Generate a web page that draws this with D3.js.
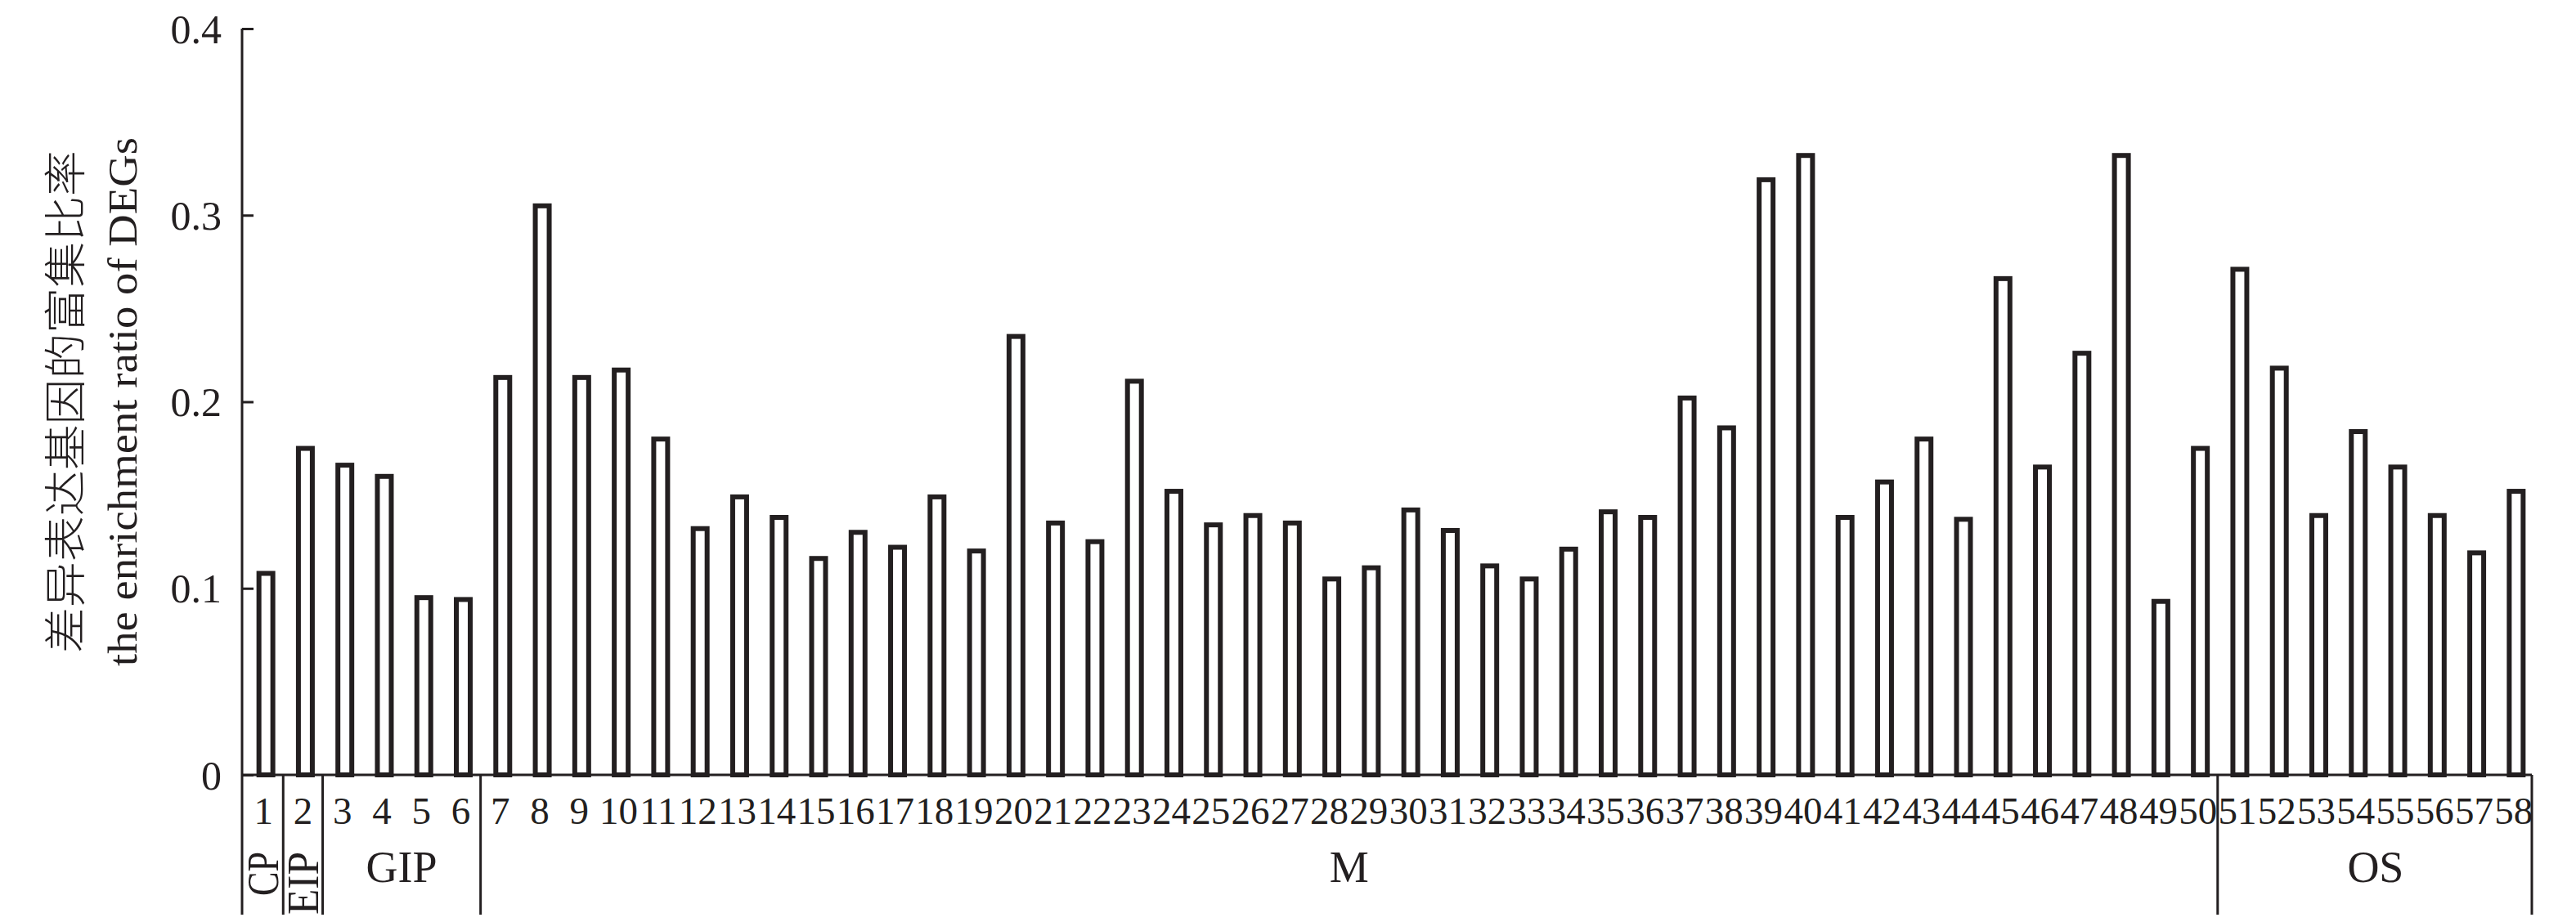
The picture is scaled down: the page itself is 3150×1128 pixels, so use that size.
<!DOCTYPE html>
<html>
<head>
<meta charset="utf-8">
<script src="https://cdn.jsdelivr.net/npm/d3@7"></script>
<style>
  body { margin: 0; background: #fff; }
</style>
</head>
<body>
<div id="chart"></div>
<script>
// Chart size
const width = 3150;
const height = 1128;
const margin = { top: 35, left: 296, right: 54, bottom: 9 };
const ink = "#231f20";
const serif = "'Liberation Serif', 'Times New Roman', serif";

// Data
const categories = d3.range(1, 59).map(String);
const ratios = [
    0.108, 0.175, 0.166, 0.160, 0.095, 0.094, 0.213, 0.305, 0.213, 0.217,
    0.180, 0.132, 0.149, 0.138, 0.116, 0.130, 0.122, 0.149, 0.120, 0.235,
    0.135, 0.125, 0.211, 0.152, 0.134, 0.139, 0.135, 0.105, 0.111, 0.142,
    0.131, 0.112, 0.105, 0.121, 0.141, 0.138, 0.202, 0.186, 0.319, 0.332,
    0.138, 0.157, 0.180, 0.137, 0.266, 0.165, 0.226, 0.332, 0.093, 0.175,
    0.271, 0.218, 0.139, 0.184, 0.165, 0.139, 0.119, 0.152
];
const groupNames = ["CP", "EIP", "GIP", "M", "OS"];
const groupSizes = [1, 1, 4, 44, 8];
const yTicks = [0, 0.1, 0.2, 0.3, 0.4];
const yTitleZh = "差异表达基因的富集比率";
const yTitleEn = "the enrichment ratio of DEGs";

const data = categories.map((c, i) => ({ cat: c, value: ratios[i] }));

// Build group spans from sizes
let start = 0;
const groups = groupNames.map((name, i) => {
    const g = { name: name, first: categories[start], last: categories[start + groupSizes[i] - 1], n: groupSizes[i] };
    start += groupSizes[i];
    return g;
});

const svg = d3.select("#chart")
    .append("svg")
    .attr("width", width)
    .attr("height", height)
    .style("background", "#fff");

// Scales
const x = d3.scaleBand()
    .domain(categories)
    .range([margin.left + 2, width - margin.right + 2])
    .padding(0);

const y = d3.scaleLinear()
    .domain([0, 0.4])
    .range([948, margin.top]);

const bottomY = height - margin.bottom;
const barW = x.bandwidth() * 0.352;
const barShift = 3;

// Bars (open rectangles)
svg.append("g")
    .selectAll("rect")
    .data(data)
    .join("rect")
    .attr("x", d => x(d.cat) + x.bandwidth() / 2 - barW / 2 + barShift)
    .attr("y", d => y(d.value))
    .attr("width", barW)
    .attr("height", d => y(0) - y(d.value))
    .attr("fill", "#fff")
    .attr("stroke", ink)
    .attr("stroke-width", 6);

// Y axis
const yAxis = svg.append("g")
    .attr("transform", `translate(${margin.left}, 0)`)
    .call(d3.axisLeft(y)
        .tickValues(yTicks)
        .tickSizeInner(-14)
        .tickSizeOuter(0)
        .tickPadding(25)
        .tickFormat(d => d === 0 ? "0" : d.toFixed(1)));
yAxis.select(".domain").remove();
yAxis.selectAll(".tick line").attr("stroke", ink).attr("stroke-width", 3);
yAxis.selectAll(".tick text")
    .attr("fill", ink)
    .attr("dy", "0.34em")
    .style("font", `50px ${serif}`);

svg.append("line")
    .attr("x1", margin.left).attr("x2", margin.left)
    .attr("y1", y(0.4)).attr("y2", bottomY)
    .attr("stroke", ink).attr("stroke-width", 3);

// Baseline
svg.append("line")
    .attr("x1", margin.left).attr("x2", x.range()[1] - 2)
    .attr("y1", y(0)).attr("y2", y(0))
    .attr("stroke", ink).attr("stroke-width", 3);

// Category numbers
svg.append("g")
    .selectAll("text")
    .data(categories)
    .join("text")
    .attr("x", d => x(d) + x.bandwidth() / 2)
    .attr("y", 1008)
    .attr("text-anchor", "middle")
    .attr("fill", ink)
    .style("font", `47px ${serif}`)
    .text(d => d);

// Group separators
const seps = groups.slice(1).map(g => x(g.first));
seps.push(x.range()[1] - 2);
svg.append("g")
    .selectAll("line")
    .data(seps)
    .join("line")
    .attr("x1", d => d).attr("x2", d => d)
    .attr("y1", y(0)).attr("y2", bottomY)
    .attr("stroke", ink).attr("stroke-width", 3);

// Group labels
groups.forEach(g => {
    const x0 = g === groups[0] ? margin.left : x(g.first);
    const x1 = x(g.last) + x.bandwidth();
    const cx = (x0 + x1) / 2;
    if (g.n === 1) {
        // narrow groups: written vertically, condensed
        svg.append("text")
            .attr("transform", `translate(${cx + 19}, 1042) rotate(-90)`)
            .attr("text-anchor", "end")
            .attr("fill", ink)
            .attr("font-family", serif)
            .attr("font-size", 55)
            .attr("textLength", g.name.length * 23 + 8)
            .attr("lengthAdjust", "spacingAndGlyphs")
            .text(g.name);
    } else {
        svg.append("text")
            .attr("x", cx)
            .attr("y", 1079)
            .attr("text-anchor", "middle")
            .attr("fill", ink)
            .attr("font-family", serif)
            .attr("font-size", 54)
            .text(g.name);
    }
});

// Y axis title (two lines)
const midY = (y(0) + y(0.4)) / 2;
svg.append("text")
    .attr("transform", `translate(99, ${midY}) rotate(-90)`)
    .attr("text-anchor", "middle")
    .attr("fill", ink)
    .attr("textLength", 615)
    .attr("lengthAdjust", "spacingAndGlyphs")
    .style("font", "300 52px 'Noto Sans CJK SC', sans-serif")
    .text(yTitleZh);

svg.append("text")
    .attr("transform", `translate(167, ${midY}) rotate(-90)`)
    .attr("text-anchor", "middle")
    .attr("fill", ink)
    .attr("textLength", 647)
    .attr("lengthAdjust", "spacingAndGlyphs")
    .style("font", `50px ${serif}`)
    .text(yTitleEn);
</script>
</body>
</html>
